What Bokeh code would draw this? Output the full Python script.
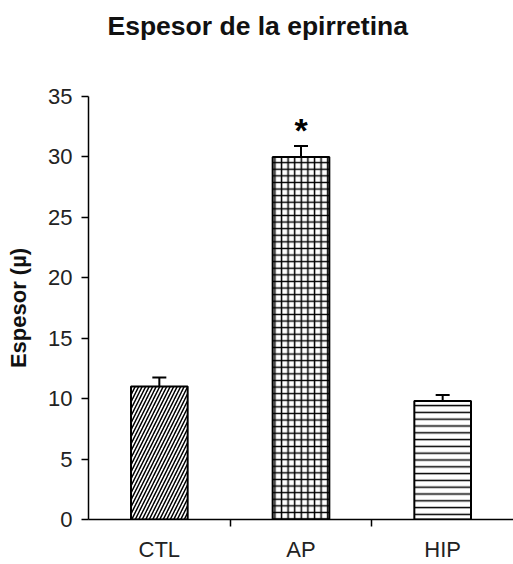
from bokeh.plotting import figure
from bokeh.models import Range1d, FixedTicker, Whisker, TeeHead, ColumnDataSource, Title
from bokeh.core.properties import value
from bokeh.embed import file_html
from bokeh.resources import INLINE

categories = ["CTL", "AP", "HIP"]
means = [11.0, 30.0, 9.8]
errors = [0.75, 0.9, 0.5]
hatches = ["/", "+", "-"]
hatch_scales = [7.0, 6.6, 6.8]
star_labels = ["", "*", ""]
y_ticks = [0, 5, 10, 15, 20, 25, 30, 35]
title_text = "Espesor de la epirretina"

xpos = [i + 0.5 for i in range(len(categories))]
boundaries = [i for i in range(1, len(categories))]
upper = [m + e for m, e in zip(means, errors)]

src = ColumnDataSource(dict(x=xpos, top=means, upper=upper, hatch=hatches,
                            scale=hatch_scales, star=star_labels, cat=categories))

FONT = "Liberation Sans"

p = figure(width=513, height=564, output_backend="svg", toolbar_location=None,
           x_range=Range1d(0, len(categories)), y_range=Range1d(0, 35),
           min_border_left=88, min_border_right=0, min_border_top=96, min_border_bottom=45)

p.title.text = title_text
p.title.text_font = FONT
p.title.text_font_size = "26.5px"
p.title.text_font_style = "bold"
p.title.align = "left"
p.title.offset = 19
p.title.standoff = 10
p.title.text_color = "#111111"

# spacer between the plot frame and the title
p.add_layout(Title(text=" ", text_font_size="1px", standoff=48), "above")

p.vbar(x="x", top="top", width=0.4, bottom=0, source=src,
       fill_color="white", line_color="black", line_width=2,
       hatch_pattern="hatch", hatch_scale="scale", hatch_color="black", hatch_weight=1.5)

w = Whisker(base="x", lower="top", upper="upper", source=src, dimension="height",
            line_color="black", line_width=2,
            lower_head=None, upper_head=TeeHead(size=14, line_color="black", line_width=2))
p.add_layout(w)

p.text(x="x", y="upper", text="star", source=src, text_font=value(FONT),
       text_font_size="34px", text_font_style="bold", text_align="center",
       text_baseline="alphabetic", text_color="black", y_offset=-16)

xa = p.xaxis[0]
xa.ticker = FixedTicker(ticks=xpos, minor_ticks=boundaries)
xa.major_label_overrides = {x: c for x, c in zip(xpos, categories)}
xa.major_tick_out = 0
xa.major_tick_in = 0
xa.minor_tick_out = 7
xa.minor_tick_in = 0
xa.minor_tick_line_color = "black"
xa.minor_tick_line_width = 1.5
xa.axis_line_color = "black"
xa.axis_line_width = 1.5
xa.major_label_standoff = 10
xa.major_label_text_font = FONT
xa.major_label_text_font_size = "22px"
xa.major_label_text_color = "#222222"

ya = p.yaxis[0]
ya.ticker = FixedTicker(ticks=y_ticks)
ya.major_tick_out = 7
ya.major_tick_in = 0
ya.minor_tick_line_color = None
ya.major_tick_line_width = 1.5
ya.axis_line_width = 1.5
ya.axis_line_color = "black"
ya.major_label_standoff = 9
ya.major_label_text_font = FONT
ya.major_label_text_font_size = "22px"
ya.major_label_text_color = "#222222"
ya.axis_label = "Espesor (µ)"
ya.axis_label_text_font = FONT
ya.axis_label_text_font_size = "22px"
ya.axis_label_text_font_style = "bold"
ya.axis_label_text_color = "#111111"
ya.axis_label_standoff = 14

p.grid.visible = False
p.outline_line_color = None
p.background_fill_color = "white"
p.border_fill_color = "white"

open("out.html", "w").write(file_html(p, INLINE))
